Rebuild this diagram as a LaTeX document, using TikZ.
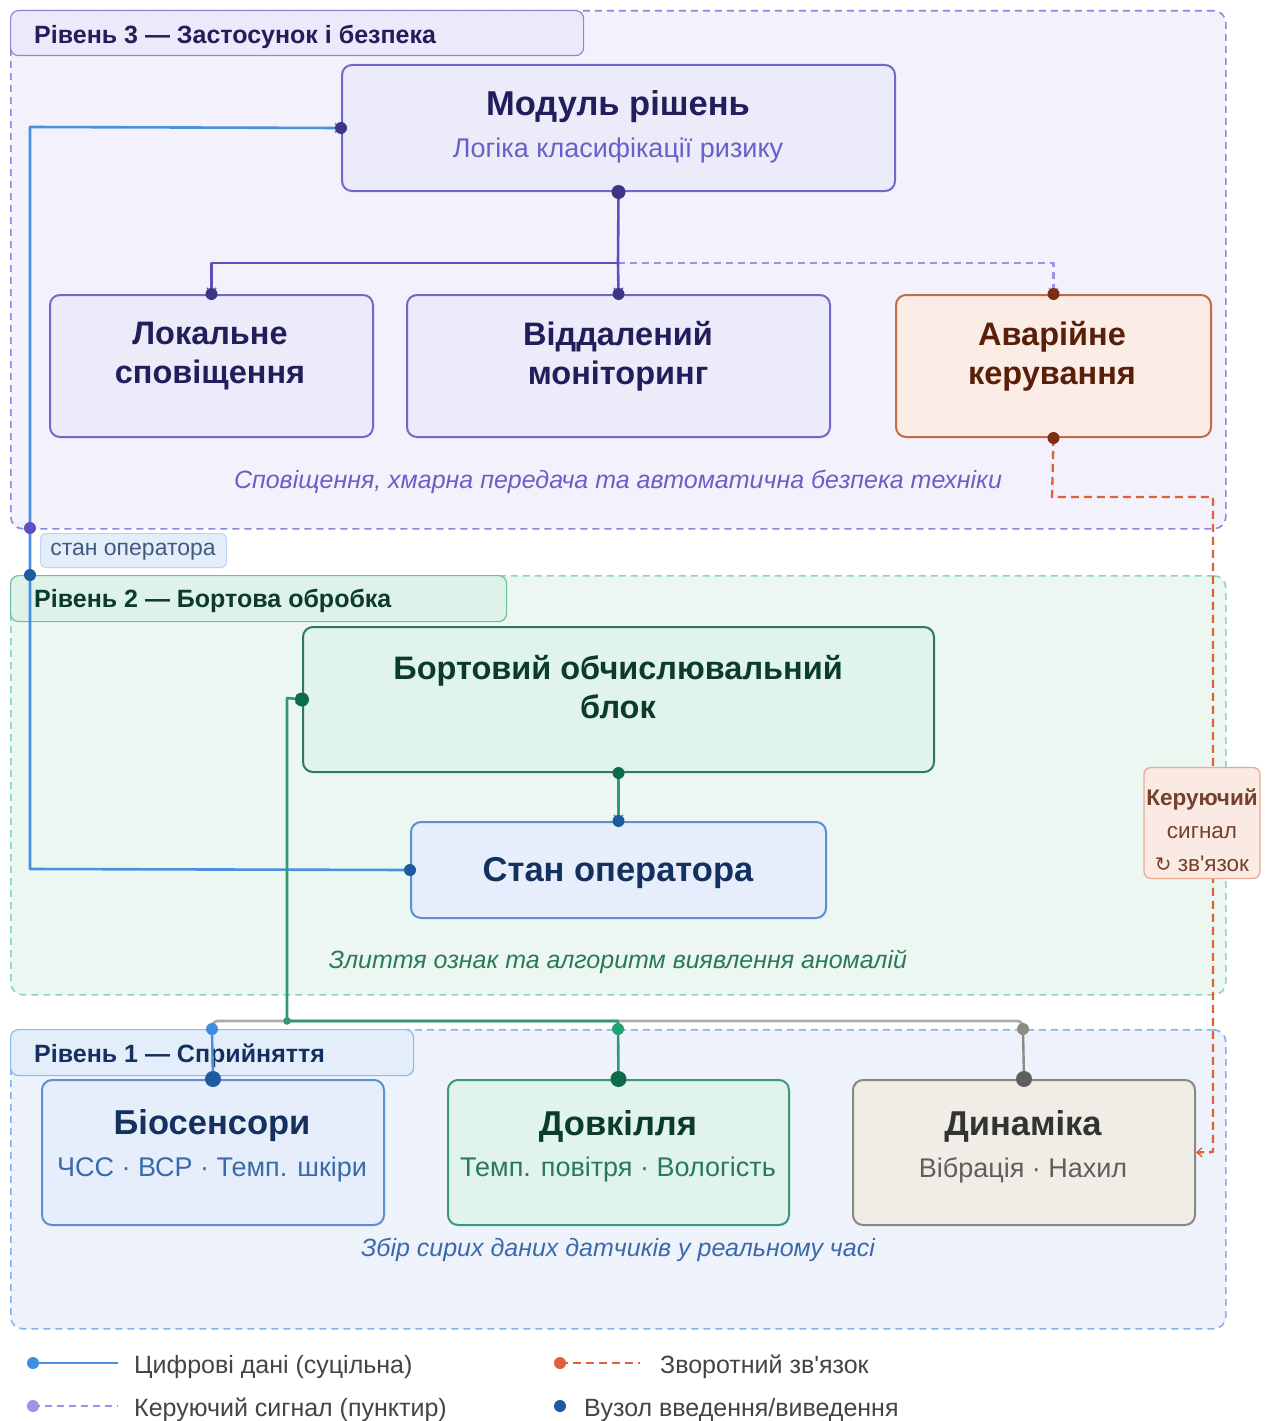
\documentclass[tikz,border=0pt]{standalone}
\usepackage{fontspec}
\setmainfont{Liberation Sans}
\newfontfamily\symfont{DejaVu Sans}
\usetikzlibrary{arrows.meta}
\definecolor{pDash}{HTML}{8F86DD}
\definecolor{pFill}{HTML}{F3F1FC}
\definecolor{pTab}{HTML}{ECEAFA}
\definecolor{pBox}{HTML}{ECEBFA}
\definecolor{pBorder}{HTML}{7268CC}
\definecolor{pText}{HTML}{231D5C}
\definecolor{pSub}{HTML}{6A5FC8}
\definecolor{pLine}{HTML}{5B50C0}
\definecolor{pLight}{HTML}{9D93E6}
\definecolor{pDot}{HTML}{3D3585}
\definecolor{oFill}{HTML}{FBECE5}
\definecolor{oBorder}{HTML}{C26B47}
\definecolor{oText}{HTML}{5A1F08}
\definecolor{oDot}{HTML}{7A2E12}
\definecolor{oLine}{HTML}{E0603A}
\definecolor{oLblFill}{HTML}{FBE9E3}
\definecolor{oLblBorder}{HTML}{EBA98F}
\definecolor{gDash}{HTML}{8DD3B5}
\definecolor{gFill}{HTML}{EDF7F2}
\definecolor{gTab}{HTML}{DFF2EA}
\definecolor{gTabBorder}{HTML}{6CC09C}
\definecolor{gBox}{HTML}{E0F3EC}
\definecolor{gBorder}{HTML}{2F7A5E}
\definecolor{gBorder2}{HTML}{3A9A78}
\definecolor{gText}{HTML}{0B3B2D}
\definecolor{gSub}{HTML}{2A7A5A}
\definecolor{gDot}{HTML}{0F6A4C}
\definecolor{gLine}{HTML}{2F9A72}
\definecolor{gDotL}{HTML}{22A076}
\definecolor{bDash}{HTML}{82B2EA}
\definecolor{bFill}{HTML}{EEF3FB}
\definecolor{bTab}{HTML}{E4EEFB}
\definecolor{bTabBorder}{HTML}{8AB8EF}
\definecolor{bBox}{HTML}{E5EEFA}
\definecolor{bBorder}{HTML}{5B8FD0}
\definecolor{bText}{HTML}{13305E}
\definecolor{bSub}{HTML}{3A6AAA}
\definecolor{bDot}{HTML}{1D5AA0}
\definecolor{bLine}{HTML}{4A90E2}
\definecolor{bDotL}{HTML}{3D8DE0}
\definecolor{yFill}{HTML}{F0EDE6}
\definecolor{yBorder}{HTML}{8A8780}
\definecolor{yLine}{HTML}{B0ACA4}
\definecolor{yDot}{HTML}{5F5E5A}
\definecolor{yDotL}{HTML}{8E8B84}
\definecolor{legText}{HTML}{444444}
\begin{document}
\begin{tikzpicture}[x=1pt,y=-1pt,line join=round,
  cont/.style={draw, rounded corners=12pt, dash pattern=on 7pt off 5pt, line width=1.6pt, minimum width=#1, anchor=north west, inner sep=0pt},
  tabbox/.style={draw, rounded corners=8pt, line width=1.2pt, anchor=north west, inner sep=0pt},
  boxx/.style={draw, rounded corners=10pt, line width=2pt, anchor=north west, inner sep=0pt},
  tabtxt/.style={anchor=west, inner sep=0pt, font=\fontsize{25}{30}\selectfont\bfseries},
  ttl/.style={inner sep=0pt, align=center, font=\fontsize{34.5}{40}\selectfont\bfseries},
  ttltwo/.style={inner sep=0pt, align=center, font=\fontsize{32.5}{39}\selectfont\bfseries},
  subtxt/.style={inner sep=0pt, font=\fontsize{27}{32}\selectfont},
  captxt/.style={inner sep=0pt, font=\fontsize{25}{30}\selectfont\itshape},
  legtxt/.style={anchor=west, inner sep=0pt, text=legText, font=\fontsize{25}{30}\selectfont},
  tip/.style={-{Straight Barb[length=5pt,width=9pt,line width=1.4pt]}},
]
\useasboundingbox (0,0) rectangle (1266,1421);
\fill[white] (0,0) rectangle (1266,1421);

% ---------- containers ----------
\node[cont=1215pt, minimum height=518pt, draw=pDash, fill=pFill] (lvl3) at (10,10) {};
\node[cont=1215pt, minimum height=419pt, draw=gDash, fill=gFill] (lvl2) at (10,575) {};
\node[cont=1215pt, minimum height=299pt, draw=bDash, fill=bFill] (lvl1) at (10,1029) {};

\node[tabbox, draw=pBorder!80, fill=pTab, minimum width=573pt, minimum height=45pt] (tab3) at (10,10) {};
\node[tabtxt, text=pText] (tab3t) at (34,37) {Рівень 3 — Застосунок і безпека};
\node[tabbox, draw=gTabBorder, fill=gTab, minimum width=496pt, minimum height=46pt] (tab2) at (10,575) {};
\node[tabtxt, text=gText] (tab2t) at (34,601) {Рівень 2 — Бортова обробка};
\node[tabbox, draw=bTabBorder, fill=bTab, minimum width=403pt, minimum height=46pt] (tab1) at (10,1029) {};
\node[tabtxt, text=bText] (tab1t) at (34,1056) {Рівень 1 — Сприйняття};

% ---------- level 3 ----------
\node[boxx, draw=pBorder, fill=pBox, minimum width=553pt, minimum height=126pt] (mod) at (341,64) {};
\node[ttl, text=pText] (modt) at (618,107) {Модуль рішень};
\node[subtxt, text=pSub] (mods) at (618,151) {Логіка класифікації ризику};

\node[boxx, draw=pBorder, fill=pBox, minimum width=323pt, minimum height=142pt] (loc) at (49,294) {};
\node[ttltwo, text=pText] (loct) at (210,356) {Локальне\\сповіщення};
\node[boxx, draw=pBorder, fill=pBox, minimum width=423pt, minimum height=142pt] (rem) at (406,294) {};
\node[ttltwo, text=pText] (remt) at (618,356) {Віддалений\\моніторинг};
\node[boxx, draw=oBorder, fill=oFill, minimum width=315pt, minimum height=142pt] (ava) at (895,294) {};
\node[ttltwo, text=oText] (avat) at (1052,356) {Аварійне\\керування};

\node[captxt, text=pSub] (cap3) at (618,482) {Сповіщення, хмарна передача та автоматична безпека техніки};

% ---------- level 2 ----------
\node[boxx, draw=gBorder, fill=gBox, minimum width=631pt, minimum height=145pt] (obc) at (302,626) {};
\node[ttltwo, text=gText] (obct) at (618,687) {Бортовий обчислювальний\\блок};
\node[boxx, draw=bBorder, fill=bBox, minimum width=415pt, minimum height=96pt] (op) at (410,821) {};
\node[ttl, text=bText] (opt) at (618,873) {Стан оператора};
\node[captxt, text=gSub] (cap2) at (618,962) {Злиття ознак та алгоритм виявлення аномалій};

% ---------- level 1 ----------
\node[boxx, draw=bBorder, fill=bBox, minimum width=342pt, minimum height=145pt] (bio) at (41,1079) {};
\node[ttl, text=bText] (biot) at (212,1126) {Біосенсори};
\node[subtxt, text=bSub] (bios) at (212,1170) {ЧСС · ВСР · Темп. шкіри};
\node[boxx, draw=gBorder2, fill=gBox, minimum width=341pt, minimum height=145pt] (env) at (447,1079) {};
\node[ttl, text=gText] (envt) at (618,1126) {Довкілля};
\node[subtxt, text=gSub] (envs) at (618,1170) {Темп. повітря · Вологість};
\node[boxx, draw=yBorder, fill=yFill, minimum width=342pt, minimum height=145pt] (dyn) at (852,1079) {};
\node[ttl, text=black!80] (dynt) at (1023,1126) {Динаміка};
\node[subtxt, text=yDot] (dyns) at (1023,1170) {Вібрація · Нахил};
\node[captxt, text=bSub] (cap1) at (618,1250) {Збір сирих даних датчиків у реальному часі};

% ---------- coordinates ----------
\coordinate (j3) at (618,263);
\coordinate (bA) at (30,869);
\coordinate (bB) at (30,127);
\coordinate (bX3) at (30,528);
\coordinate (bX2) at (30,575);
\coordinate (fA) at (1052,497);
\coordinate (fB) at (1213,497);
\coordinate (fC) at (1213,1152);
\coordinate (bioUp) at (212,1029);
\coordinate (envUp) at (618,1029);
\coordinate (dynUp) at (1023,1029);
\coordinate (busL) at (212,1021);
\coordinate (busR) at (1023,1021);
\coordinate (gBus) at (618,1021);
\coordinate (gC) at (287,1021);
\coordinate (gD) at (287,698);

% ---------- connectors ----------
\draw[oLine, line width=2.3pt, dash pattern=on 8pt off 5pt, tip] (ava.south) -- (fA) -- (fB) -- (fC) -- (dyn.east);
\draw[bLine, line width=2.6pt, tip] (op.west) -- (bA) -- (bB) -- (mod.west);
\draw[pLight, line width=2.3pt, dash pattern=on 7pt off 5pt, tip] (j3) -| (ava.north);
\draw[pLine, line width=2.6pt] (mod.south) -- (j3);
\draw[pLine, line width=2.6pt, tip] (j3) -| (loc.north);
\draw[pLine, line width=2.6pt, tip] (j3) -- (rem.north);
\draw[yLine, line width=2.8pt, rounded corners=6pt] (bioUp) -- (busL) -- (busR) -- (dynUp);
\draw[yLine!80!black, line width=2.4pt] (dynUp) -- (dyn.north);
\draw[bLine, line width=2.4pt] (bioUp) -- (bio.north);
\draw[gLine, line width=2.6pt, tip] (env.north) -- (gBus) -- (gC) -- (gD) -- (obc.west);
\draw[gLine, line width=2.4pt, tip] (obc.south) -- (op.north);

% ---------- dots ----------
\fill[pDot] (mod.west) circle (6);
\fill[pDot] (mod.south) circle (7);
\fill[pDot] (loc.north) circle (6);
\fill[pDot] (rem.north) circle (6);
\fill[oDot] (ava.north) circle (6);
\fill[oDot] (ava.south) circle (6);
\fill[pLine] (bX3) circle (6);
\fill[bDot] (bX2) circle (6);
\fill[gDot] (obc.west) circle (7);
\fill[gDot] (obc.south) circle (6);
\fill[bDot] (op.north) circle (6);
\fill[bDot] (op.west) circle (6);
\fill[bDot] (bio.north) circle (8);
\fill[gDot] (env.north) circle (8);
\fill[yDot] (dyn.north) circle (8);
\fill[bDotL] (bioUp) circle (6);
\fill[gDotL] (envUp) circle (6);
\fill[yDotL] (dynUp) circle (6);
\fill[gLine] (gC) circle (3.8);

% ---------- labels on connectors ----------
\node[draw=bTabBorder!60, fill=bTab, rounded corners=5pt, line width=1pt, anchor=north west, inner sep=0pt, minimum width=186pt, minimum height=34pt] (lblop) at (40,533) {};
\node[inner sep=0pt, text=bText!80, font=\fontsize{23}{27}\selectfont] (lblopt) at (133,552) {стан оператора};

\node[draw=oLblBorder, fill=oLblFill, rounded corners=7pt, line width=1.3pt, inner sep=0pt, minimum width=116pt, minimum height=111pt] (fbl) at (1202,823) {};
\node[inner sep=0pt, align=center, text=oText!85, font=\fontsize{22.5}{33}\selectfont] (fblt) at (1202,830) {\textbf{Керуючий}\\сигнал\\{\symfont\fontsize{20}{33}\selectfont ↻} зв\textquotesingle язок};

% ---------- legend ----------
\coordinate (lg1a) at (33,1363); \coordinate (lg1b) at (118,1363);
\coordinate (lg2a) at (33,1406); \coordinate (lg2b) at (118,1406);
\coordinate (lg3a) at (560,1363); \coordinate (lg3b) at (640,1363);
\coordinate (lg4a) at (560,1406);
\draw[bLine, line width=2.8pt] (lg1a) -- (lg1b);
\fill[bDotL] (lg1a) circle (6);
\draw[pLight, line width=2.8pt, dash pattern=on 7pt off 5pt] (lg2a) -- (lg2b);
\fill[pLight] (lg2a) circle (6);
\draw[oLine, line width=2.8pt, dash pattern=on 8pt off 5pt] (lg3a) -- (lg3b);
\fill[oLine] (lg3a) circle (6);
\fill[bDot] (lg4a) circle (6);
\node[legtxt] (lgt1) at (134,1367) {Цифрові дані (суцільна)};
\node[legtxt] (lgt2) at (134,1410) {Керуючий сигнал (пунктир)};
\node[legtxt] (lgt3) at (660,1367) {Зворотний зв\textquotesingle язок};
\node[legtxt] (lgt4) at (584,1410) {Вузол введення/виведення};
\end{tikzpicture}
\end{document}
